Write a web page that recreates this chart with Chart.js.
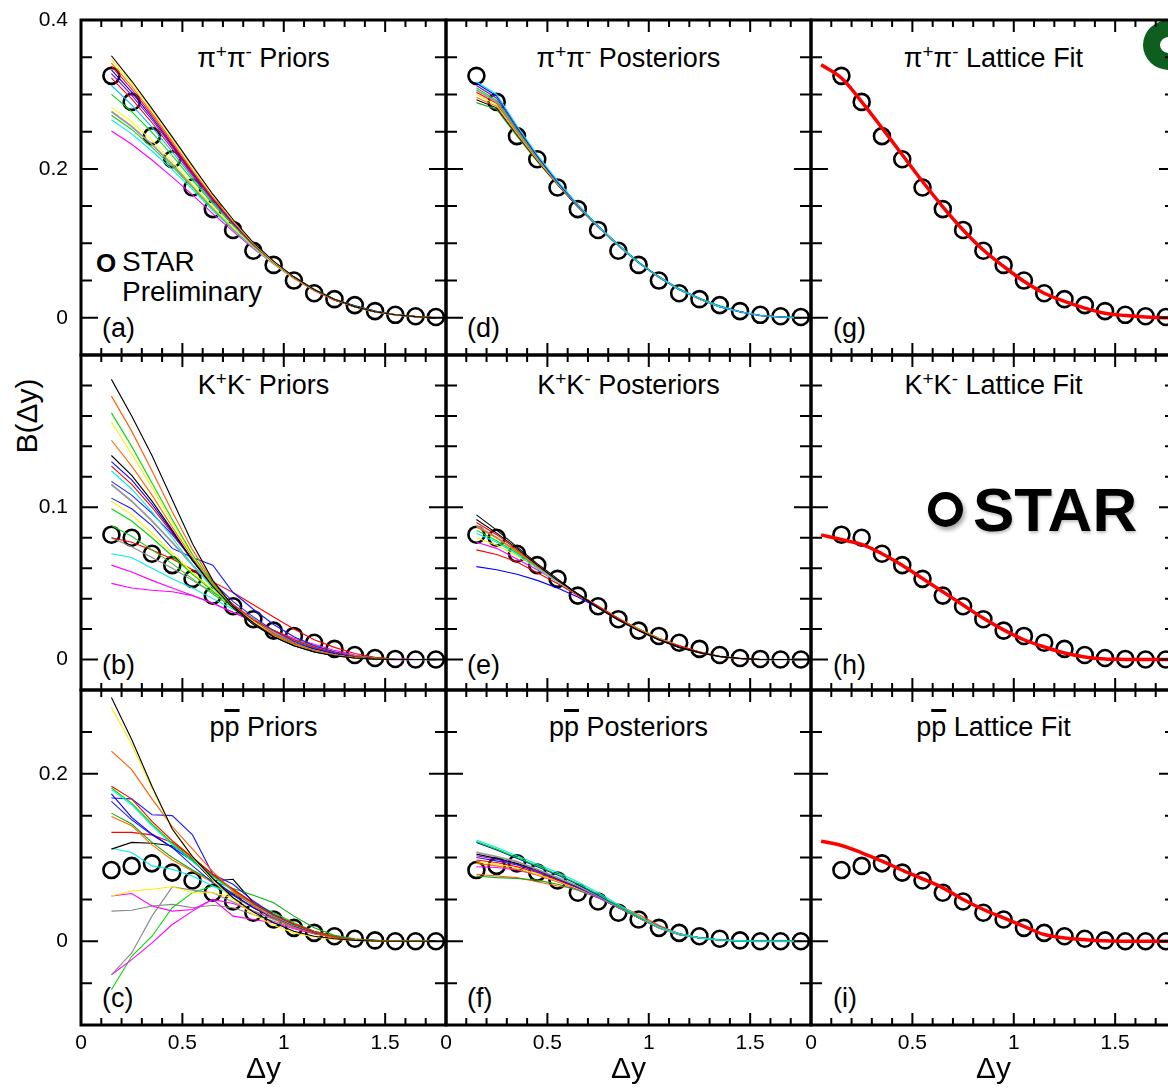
<!DOCTYPE html>
<html>
<head>
<meta charset="utf-8">
<script src="https://cdn.jsdelivr.net/npm/chart.js@4.4.1/dist/chart.umd.min.js"></script>
<style>
    html, body { margin: 0; padding: 0; background: #fff; overflow: hidden; }
    #fig { position: relative; width: 1168px; height: 1090px; overflow: hidden;
           font-family: "Liberation Sans", Arial, sans-serif; color: #000; }
    #fig canvas { position: absolute; }
    .ttl { position: absolute; width: 365px; text-align: center; font-size: 27px; line-height: 27px; white-space: nowrap; }
    .ttl sup { font-size: 19px; vertical-align: baseline; position: relative; top: -9px; }
    .bar { text-decoration: overline; text-decoration-thickness: 2.5px; }
    .tag { position: absolute; font-size: 27px; line-height: 27px; }
    .leg { position: absolute; font-size: 28px; line-height: 28px; white-space: nowrap; }
    .ytitle { position: absolute; left: 27px; top: 416px; font-size: 30px; white-space: nowrap;
              transform: translate(-50%, -50%) rotate(-90deg); }
    .logo { position: absolute; left: 973px; top: 479px; font-size: 62px; line-height: 62px; font-weight: bold;
            text-shadow: 1px 2px 3px rgba(0,0,0,0.25); }
    .ring { position: absolute; left: 928px; top: 492px; width: 35px; height: 35px; box-sizing: border-box;
            border: 7px solid #000; border-radius: 50%; box-shadow: 2px 3px 4px rgba(0,0,0,0.35); }
    .seal { position: absolute; left: 1143px; top: 20px; width: 52px; height: 50px; box-sizing: border-box;
            border: 17px solid #0d5e1f; border-radius: 50%; }
</style>
</head>
<body>
<div id="fig">
    <div class="ttl" style="left:81px;top:45px">π<sup>+</sup>π<sup>-</sup> Priors</div>
    <div class="ttl" style="left:446px;top:45px">π<sup>+</sup>π<sup>-</sup> Posteriors</div>
    <div class="ttl" style="left:811px;top:45px">π<sup>+</sup>π<sup>-</sup> Lattice Fit</div>
    <div class="ttl" style="left:81px;top:372px">K<sup>+</sup>K<sup>-</sup> Priors</div>
    <div class="ttl" style="left:446px;top:372px">K<sup>+</sup>K<sup>-</sup> Posteriors</div>
    <div class="ttl" style="left:811px;top:372px">K<sup>+</sup>K<sup>-</sup> Lattice Fit</div>
    <div class="ttl" style="left:81px;top:714px">p<span class="bar">p</span> Priors</div>
    <div class="ttl" style="left:446px;top:714px">p<span class="bar">p</span> Posteriors</div>
    <div class="ttl" style="left:811px;top:714px">p<span class="bar">p</span> Lattice Fit</div>

    <div class="tag" style="left:102px;top:315px">(a)</div>
    <div class="tag" style="left:102px;top:652px">(b)</div>
    <div class="tag" style="left:102px;top:985px">(c)</div>
    <div class="tag" style="left:467px;top:315px">(d)</div>
    <div class="tag" style="left:467px;top:652px">(e)</div>
    <div class="tag" style="left:467px;top:985px">(f)</div>
    <div class="tag" style="left:833px;top:315px">(g)</div>
    <div class="tag" style="left:833px;top:652px">(h)</div>
    <div class="tag" style="left:833px;top:985px">(i)</div>

    <div class="leg" style="left:96px;top:249px;font-weight:bold;font-size:26px">O</div>
    <div class="leg" style="left:122px;top:248px">STAR</div>
    <div class="leg" style="left:122px;top:278px">Preliminary</div>

    <div class="ytitle">B(Δy)</div>
    <div class="ring"></div>
    <div class="logo">STAR</div>
    <div class="seal"></div>
</div>

<script>
// Δy bin centres of the balance function
const DY = [0.15, 0.25, 0.35, 0.45, 0.55, 0.65, 0.75, 0.85, 0.95, 1.05, 1.15, 1.25, 1.35, 1.45, 1.55, 1.65, 1.75]
// lattice fit sampled from 0.05
const DY_FIT = [0.05, 0.15, 0.25, 0.35, 0.45, 0.55, 0.65, 0.75, 0.85, 0.95, 1.05, 1.15, 1.25, 1.35, 1.45, 1.55, 1.65, 1.75, 1.85]

// STAR preliminary points
const PI_STAR = [0.325, 0.290, 0.244, 0.213, 0.175, 0.146, 0.118, 0.090, 0.071, 0.050, 0.033, 0.025, 0.017, 0.009, 0.004, 0.002, 0.001]
const KK_STAR = [0.082, 0.080, 0.0695, 0.062, 0.053, 0.042, 0.035, 0.0265, 0.019, 0.0155, 0.011, 0.007, 0.003, 0.001, 0.0004, 0, 0]
const PP_STAR = [0.085, 0.090, 0.093, 0.082, 0.0725, 0.058, 0.0475, 0.034, 0.026, 0.016, 0.010, 0.006, 0.003, 0.001, 0, 0, 0]

// lattice fits
const PI_FIT = [0.340, 0.322, 0.290, 0.255, 0.219, 0.183, 0.149, 0.118, 0.091, 0.069, 0.049, 0.033, 0.022, 0.013, 0.006, 0.003, 0.001, 0, 0]
const KK_FIT = [0.0819, 0.0788, 0.0756, 0.0695, 0.0619, 0.0532, 0.0445, 0.0358, 0.0271, 0.0195, 0.0130, 0.0083, 0.0043, 0.0017, 0.0004, 0.0001, 0, 0, 0]
const PP_FIT = [0.1195, 0.1143, 0.1056, 0.0956, 0.0848, 0.0745, 0.0638, 0.0498, 0.0379, 0.0279, 0.0179, 0.0080, 0.0040, 0.0020, 0.0005, 0, 0, 0, 0]

// model draws, one row per curve
const PI_PRIORS = [
    [0.352, 0.318, 0.281, 0.243, 0.204, 0.166, 0.132, 0.101, 0.076, 0.055, 0.038, 0.025, 0.015, 0.008, 0.004, 0.0015, 0],
    [0.347, 0.315, 0.279, 0.241, 0.202, 0.165, 0.131, 0.100, 0.075, 0.055, 0.038, 0.025, 0.015, 0.008, 0.004, 0.0015, 0],
    [0.342, 0.311, 0.275, 0.237, 0.198, 0.162, 0.129, 0.100, 0.075, 0.054, 0.037, 0.024, 0.015, 0.008, 0.004, 0.0015, 0],
    [0.338, 0.307, 0.272, 0.234, 0.196, 0.161, 0.129, 0.099, 0.075, 0.054, 0.037, 0.024, 0.015, 0.008, 0.004, 0.0015, 0],
    [0.333, 0.303, 0.269, 0.232, 0.195, 0.160, 0.128, 0.099, 0.075, 0.055, 0.038, 0.025, 0.016, 0.009, 0.004, 0.0015, 0],
    [0.328, 0.299, 0.266, 0.230, 0.193, 0.159, 0.127, 0.099, 0.075, 0.054, 0.037, 0.024, 0.015, 0.008, 0.004, 0.0015, 0],
    [0.322, 0.294, 0.262, 0.227, 0.191, 0.157, 0.126, 0.098, 0.074, 0.054, 0.037, 0.024, 0.015, 0.008, 0.004, 0.0015, 0],
    [0.312, 0.286, 0.256, 0.223, 0.188, 0.155, 0.125, 0.097, 0.074, 0.054, 0.037, 0.024, 0.015, 0.008, 0.004, 0.0015, 0],
    [0.300, 0.277, 0.249, 0.218, 0.185, 0.153, 0.124, 0.097, 0.074, 0.054, 0.038, 0.025, 0.016, 0.009, 0.004, 0.0015, 0],
    [0.283, 0.263, 0.238, 0.210, 0.179, 0.149, 0.121, 0.096, 0.073, 0.053, 0.037, 0.024, 0.015, 0.008, 0.004, 0.0015, 0],
    [0.277, 0.257, 0.233, 0.206, 0.177, 0.148, 0.120, 0.095, 0.073, 0.053, 0.037, 0.024, 0.015, 0.008, 0.004, 0.0015, 0],
    [0.272, 0.253, 0.229, 0.203, 0.175, 0.146, 0.119, 0.095, 0.073, 0.054, 0.038, 0.025, 0.016, 0.009, 0.004, 0.0015, 0],
    [0.266, 0.247, 0.224, 0.199, 0.172, 0.144, 0.118, 0.094, 0.072, 0.053, 0.037, 0.024, 0.015, 0.008, 0.004, 0.0015, 0],
    [0.251, 0.233, 0.212, 0.189, 0.165, 0.140, 0.116, 0.093, 0.072, 0.053, 0.037, 0.024, 0.015, 0.008, 0.004, 0.0015, 0]
]
const PI_PRIOR_COLORS = ['#000000', '#ffee00', '#ff6a00', '#ff0000', '#0000ff', '#9400d3', '#dd1111', '#00bfff',
                         '#00dd00', '#ffff00', '#999999', '#22cc22', '#00eeee', '#ff00ff']

const PI_POSTERIORS = [
    [0.317, 0.300, 0.258, 0.219, 0.184, 0.152, 0.123, 0.098, 0.074, 0.055, 0.038, 0.026, 0.015, 0.008, 0.003, 0.001, 0],
    [0.315, 0.298, 0.257, 0.218, 0.183, 0.152, 0.123, 0.098, 0.074, 0.055, 0.038, 0.026, 0.015, 0.008, 0.003, 0.001, 0],
    [0.312, 0.295, 0.255, 0.217, 0.182, 0.151, 0.123, 0.098, 0.074, 0.055, 0.038, 0.026, 0.015, 0.008, 0.003, 0.001, 0],
    [0.309, 0.292, 0.253, 0.216, 0.182, 0.151, 0.123, 0.098, 0.075, 0.055, 0.039, 0.026, 0.016, 0.008, 0.003, 0.001, 0],
    [0.306, 0.290, 0.251, 0.215, 0.181, 0.151, 0.123, 0.097, 0.074, 0.055, 0.038, 0.026, 0.015, 0.008, 0.003, 0.001, 0],
    [0.303, 0.288, 0.250, 0.214, 0.181, 0.150, 0.122, 0.097, 0.074, 0.055, 0.038, 0.026, 0.015, 0.008, 0.003, 0.001, 0],
    [0.300, 0.286, 0.249, 0.213, 0.180, 0.150, 0.122, 0.097, 0.074, 0.054, 0.038, 0.025, 0.015, 0.008, 0.003, 0.001, 0],
    [0.296, 0.284, 0.247, 0.212, 0.180, 0.150, 0.122, 0.097, 0.074, 0.054, 0.038, 0.025, 0.015, 0.008, 0.003, 0.001, 0],
    [0.293, 0.282, 0.246, 0.211, 0.179, 0.149, 0.122, 0.097, 0.074, 0.054, 0.038, 0.025, 0.015, 0.008, 0.003, 0.001, 0],
    [0.289, 0.280, 0.244, 0.210, 0.179, 0.149, 0.122, 0.097, 0.074, 0.054, 0.038, 0.025, 0.015, 0.008, 0.003, 0.001, 0]
]
const PI_POST_COLORS = ['#00eeee', '#0000ff', '#9400d3', '#00dd00', '#999999', '#ff0000', '#ffee00', '#ff6a00', '#000000', '#22aa22']

const KK_PRIORS = [
    [0.184, 0.160, 0.134, 0.105, 0.076, 0.052, 0.035, 0.024, 0.015, 0.009, 0.005, 0.0025, 0.001, 0.0003, 0, 0, 0],
    [0.173, 0.150, 0.124, 0.097, 0.072, 0.051, 0.035, 0.024, 0.016, 0.010, 0.006, 0.003, 0.0012, 0.0004, 0, 0, 0],
    [0.162, 0.140, 0.116, 0.092, 0.069, 0.050, 0.035, 0.024, 0.016, 0.010, 0.006, 0.003, 0.0012, 0.0004, 0, 0, 0],
    [0.156, 0.135, 0.113, 0.090, 0.068, 0.050, 0.035, 0.025, 0.016, 0.010, 0.006, 0.003, 0.0012, 0.0004, 0, 0, 0],
    [0.144, 0.127, 0.108, 0.087, 0.067, 0.049, 0.035, 0.025, 0.017, 0.011, 0.006, 0.003, 0.0013, 0.0004, 0, 0, 0],
    [0.134, 0.121, 0.104, 0.085, 0.065, 0.048, 0.034, 0.023, 0.015, 0.009, 0.005, 0.0025, 0.001, 0.0003, 0, 0, 0],
    [0.130, 0.118, 0.102, 0.084, 0.065, 0.049, 0.035, 0.025, 0.017, 0.011, 0.007, 0.004, 0.0015, 0.0005, 0, 0, 0],
    [0.127, 0.115, 0.100, 0.083, 0.065, 0.049, 0.036, 0.026, 0.019, 0.013, 0.008, 0.0045, 0.002, 0.0007, 0, 0, 0],
    [0.124, 0.112, 0.097, 0.080, 0.062, 0.047, 0.035, 0.025, 0.017, 0.011, 0.007, 0.004, 0.0015, 0.0005, 0, 0, 0],
    [0.117, 0.108, 0.096, 0.082, 0.066, 0.051, 0.038, 0.028, 0.019, 0.012, 0.007, 0.004, 0.0015, 0.0005, 0, 0, 0],
    [0.115, 0.104, 0.091, 0.077, 0.062, 0.048, 0.036, 0.026, 0.018, 0.012, 0.007, 0.004, 0.0015, 0.0005, 0, 0, 0],
    [0.106, 0.099, 0.088, 0.073, 0.067, 0.062, 0.044, 0.033, 0.023, 0.015, 0.009, 0.005, 0.002, 0.0007, 0, 0, 0],
    [0.104, 0.095, 0.083, 0.070, 0.057, 0.046, 0.035, 0.026, 0.018, 0.012, 0.008, 0.0045, 0.002, 0.0007, 0, 0, 0],
    [0.099, 0.091, 0.080, 0.068, 0.056, 0.045, 0.035, 0.026, 0.018, 0.012, 0.008, 0.0045, 0.002, 0.0007, 0, 0, 0],
    [0.088, 0.081, 0.072, 0.063, 0.053, 0.043, 0.034, 0.026, 0.019, 0.013, 0.009, 0.005, 0.0025, 0.001, 0, 0, 0],
    [0.080, 0.077, 0.072, 0.066, 0.059, 0.051, 0.044, 0.036, 0.028, 0.020, 0.013, 0.008, 0.004, 0.0015, 0.0003, 0, 0],
    [0.080, 0.074, 0.067, 0.060, 0.052, 0.044, 0.036, 0.027, 0.019, 0.013, 0.008, 0.0045, 0.002, 0.0007, 0, 0, 0],
    [0.0695, 0.067, 0.060, 0.053, 0.047, 0.040, 0.033, 0.025, 0.018, 0.012, 0.008, 0.0045, 0.002, 0.0007, 0, 0, 0],
    [0.062, 0.0575, 0.052, 0.047, 0.042, 0.037, 0.031, 0.025, 0.019, 0.013, 0.009, 0.005, 0.0025, 0.001, 0.0003, 0, 0],
    [0.050, 0.047, 0.0455, 0.0445, 0.042, 0.037, 0.031, 0.025, 0.019, 0.014, 0.010, 0.006, 0.003, 0.001, 0.0003, 0, 0]
]
const KK_PRIOR_COLORS = ['#000000', '#ff5a00', '#00dd00', '#ffee00', '#ff6a00', '#000000', '#0000ff', '#ff0000', '#00eeee', '#2222ff',
                         '#999999', '#1a1aff', '#ffee00', '#00dd00', '#22cc22', '#ff0000', '#888888', '#00eeee', '#ff00ff', '#ff00ff']

const KK_POSTERIORS = [
    [0.095, 0.085, 0.074, 0.063, 0.053, 0.043, 0.034, 0.026, 0.019, 0.013, 0.008, 0.0045, 0.002, 0.0007, 0, 0, 0],
    [0.092, 0.083, 0.073, 0.062, 0.052, 0.043, 0.034, 0.026, 0.019, 0.013, 0.008, 0.0045, 0.002, 0.0007, 0, 0, 0],
    [0.090, 0.082, 0.072, 0.062, 0.052, 0.043, 0.035, 0.027, 0.019, 0.013, 0.009, 0.005, 0.002, 0.0007, 0, 0, 0],
    [0.087, 0.080, 0.071, 0.061, 0.052, 0.043, 0.035, 0.027, 0.020, 0.014, 0.009, 0.005, 0.002, 0.0007, 0, 0, 0],
    [0.085, 0.078, 0.070, 0.061, 0.052, 0.043, 0.035, 0.027, 0.020, 0.014, 0.009, 0.005, 0.002, 0.0007, 0, 0, 0],
    [0.083, 0.077, 0.069, 0.060, 0.051, 0.043, 0.035, 0.027, 0.020, 0.014, 0.009, 0.005, 0.002, 0.0007, 0, 0, 0],
    [0.080, 0.075, 0.068, 0.060, 0.051, 0.043, 0.035, 0.027, 0.020, 0.014, 0.009, 0.005, 0.002, 0.0007, 0, 0, 0],
    [0.077, 0.073, 0.066, 0.059, 0.051, 0.043, 0.035, 0.027, 0.020, 0.014, 0.009, 0.005, 0.002, 0.0007, 0, 0, 0],
    [0.072, 0.069, 0.064, 0.057, 0.050, 0.042, 0.035, 0.027, 0.020, 0.014, 0.009, 0.005, 0.002, 0.0007, 0, 0, 0],
    [0.061, 0.059, 0.056, 0.052, 0.047, 0.041, 0.034, 0.027, 0.020, 0.014, 0.009, 0.005, 0.002, 0.0007, 0, 0, 0],
    [0.088, 0.080, 0.071, 0.061, 0.052, 0.043, 0.034, 0.026, 0.019, 0.013, 0.008, 0.0045, 0.002, 0.0007, 0, 0, 0]
]
const KK_POST_COLORS = ['#000000', '#000000', '#ff0000', '#ff6a00', '#00dd00', '#00eeee', '#ffee00', '#ff00ff', '#ff0000', '#0000ff', '#999999']

const PP_PRIORS = [
    [0.291, 0.241, 0.185, 0.134, 0.101, 0.075, 0.052, 0.035, 0.022, 0.012, 0.006, 0.003, 0.001, 0.0003, 0, 0, 0],
    [0.279, 0.235, 0.183, 0.134, 0.100, 0.073, 0.050, 0.032, 0.019, 0.010, 0.005, 0.002, 0.001, 0.0003, 0, 0, 0],
    [0.227, 0.205, 0.170, 0.137, 0.110, 0.083, 0.060, 0.042, 0.028, 0.017, 0.009, 0.004, 0.0015, 0.0005, 0, 0, 0],
    [0.185, 0.170, 0.143, 0.120, 0.100, 0.080, 0.062, 0.045, 0.031, 0.020, 0.011, 0.005, 0.002, 0.0007, 0, 0, 0],
    [0.183, 0.165, 0.140, 0.117, 0.097, 0.078, 0.061, 0.045, 0.031, 0.020, 0.011, 0.005, 0.002, 0.0007, 0, 0, 0],
    [0.181, 0.163, 0.138, 0.115, 0.095, 0.077, 0.060, 0.044, 0.030, 0.019, 0.011, 0.005, 0.002, 0.0007, 0, 0, 0],
    [0.176, 0.148, 0.128, 0.112, 0.096, 0.074, 0.056, 0.040, 0.028, 0.018, 0.010, 0.005, 0.002, 0.0007, 0, 0, 0],
    [0.171, 0.170, 0.151, 0.150, 0.127, 0.080, 0.068, 0.048, 0.032, 0.020, 0.011, 0.005, 0.002, 0.0007, 0, 0, 0],
    [0.167, 0.145, 0.127, 0.112, 0.090, 0.070, 0.055, 0.040, 0.028, 0.018, 0.010, 0.005, 0.002, 0.0007, 0, 0, 0],
    [0.153, 0.140, 0.118, 0.100, 0.085, 0.072, 0.063, 0.055, 0.046, 0.030, 0.016, 0.007, 0.003, 0.001, 0, 0, 0],
    [0.149, 0.138, 0.115, 0.097, 0.084, 0.070, 0.058, 0.043, 0.030, 0.019, 0.010, 0.005, 0.002, 0.0007, 0, 0, 0],
    [0.130, 0.130, 0.127, 0.118, 0.100, 0.079, 0.062, 0.046, 0.032, 0.021, 0.012, 0.006, 0.002, 0.0007, 0, 0, 0],
    [0.110, 0.118, 0.117, 0.114, 0.098, 0.072, 0.074, 0.046, 0.030, 0.018, 0.010, 0.005, 0.002, 0.0007, 0, 0, 0],
    [0.111, 0.106, 0.090, 0.086, 0.078, 0.066, 0.055, 0.041, 0.028, 0.018, 0.010, 0.005, 0.002, 0.0007, 0, 0, 0],
    [0.054, 0.060, 0.062, 0.065, 0.058, 0.058, 0.052, 0.040, 0.028, 0.018, 0.010, 0.005, 0.002, 0.0007, 0, 0, 0],
    [0.054, 0.057, 0.042, 0.036, 0.038, 0.050, 0.030, 0.026, 0.022, 0.015, 0.009, 0.005, 0.002, 0.0007, 0, 0, 0],
    [0.036, 0.037, 0.042, 0.044, 0.040, 0.043, 0.040, 0.032, 0.024, 0.016, 0.009, 0.005, 0.002, 0.0007, 0, 0, 0],
    [-0.040, -0.014, 0.030, 0.065, 0.061, 0.058, 0.047, 0.036, 0.026, 0.017, 0.010, 0.005, 0.002, 0.001, 0, 0, 0],
    [-0.040, -0.022, -0.002, 0.020, 0.036, 0.050, 0.045, 0.036, 0.027, 0.018, 0.010, 0.005, 0.002, 0.001, 0, 0, 0],
    [-0.058, -0.018, 0.006, 0.040, 0.058, 0.066, 0.058, 0.046, 0.034, 0.022, 0.012, 0.006, 0.002, 0.001, 0, 0, 0]
]
const PP_PRIOR_COLORS = ['#000000', '#ffee00', '#ff5a00', '#ff0000', '#00dd00', '#00eeee', '#0000ff', '#1a1aff', '#2222ff', '#11aa11',
                         '#ff6a00', '#ff0000', '#000000', '#00eeee', '#ffee00', '#ff00ff', '#888888', '#888888', '#ff00ff', '#00dd00']

const PP_POSTERIORS = [
    [0.121, 0.112, 0.102, 0.092, 0.082, 0.071, 0.058, 0.044, 0.030, 0.017, 0.009, 0.004, 0.0015, 0.0005, 0, 0, 0],
    [0.119, 0.110, 0.100, 0.090, 0.080, 0.069, 0.056, 0.042, 0.029, 0.017, 0.009, 0.004, 0.0015, 0.0005, 0, 0, 0],
    [0.118, 0.109, 0.099, 0.089, 0.079, 0.068, 0.055, 0.042, 0.029, 0.017, 0.009, 0.004, 0.0015, 0.0005, 0, 0, 0],
    [0.106, 0.101, 0.095, 0.086, 0.076, 0.066, 0.054, 0.041, 0.028, 0.016, 0.008, 0.004, 0.0015, 0.0005, 0, 0, 0],
    [0.104, 0.099, 0.093, 0.085, 0.075, 0.065, 0.054, 0.041, 0.028, 0.016, 0.008, 0.004, 0.0015, 0.0005, 0, 0, 0],
    [0.102, 0.098, 0.092, 0.084, 0.075, 0.065, 0.054, 0.041, 0.028, 0.016, 0.008, 0.004, 0.0015, 0.0005, 0, 0, 0],
    [0.100, 0.096, 0.091, 0.083, 0.074, 0.064, 0.053, 0.040, 0.028, 0.016, 0.008, 0.004, 0.0015, 0.0005, 0, 0, 0],
    [0.097, 0.094, 0.089, 0.082, 0.073, 0.064, 0.054, 0.042, 0.030, 0.018, 0.009, 0.004, 0.0015, 0.0005, 0, 0, 0],
    [0.095, 0.092, 0.088, 0.080, 0.072, 0.063, 0.053, 0.041, 0.029, 0.017, 0.009, 0.004, 0.0015, 0.0005, 0, 0, 0],
    [0.093, 0.090, 0.086, 0.079, 0.071, 0.063, 0.053, 0.041, 0.029, 0.017, 0.009, 0.004, 0.0015, 0.0005, 0, 0, 0],
    [0.089, 0.088, 0.085, 0.079, 0.071, 0.062, 0.052, 0.040, 0.028, 0.016, 0.008, 0.004, 0.0015, 0.0005, 0, 0, 0],
    [0.078, 0.076, 0.075, 0.073, 0.068, 0.061, 0.052, 0.040, 0.028, 0.016, 0.008, 0.004, 0.0015, 0.0005, 0, 0, 0],
    [0.080, 0.078, 0.076, 0.071, 0.066, 0.063, 0.054, 0.043, 0.032, 0.019, 0.009, 0.004, 0.0015, 0.0005, 0, 0, 0]
]
const PP_POST_COLORS = ['#00eeee', '#00dd00', '#0000ff', '#999999', '#000000', '#9400d3', '#2222ff', '#ff0000', '#ffee00', '#ff6a00',
                        '#ff00ff', '#11aa11', '#ff5a00']

// tick labels
const X_LABELS = [0, 0.5, 1, 1.5]
const Y_LABELS = [[0, 0.2, 0.4], [0, 0.1], [0, 0.2]]

// frame layout
const COL_LEFT = [81, 446, 811]
const ROW_TOP = [20, 355, 690]
const PW = 365, PH = 335
const PAD_L = 81, PAD_T = 20, PAD_R = 12, AXIS_H = 63

const ROWS = [
    { min: -0.05, max: 0.4, minor: 0.05, major: 0.2 },
    { min: -0.02, max: 0.2, minor: 0.02, major: 0.1 },
    { min: -0.1,  max: 0.3, minor: 0.05, major: 0.2 }
]

Chart.defaults.font.family = '"Liberation Sans", Arial, sans-serif'
Chart.defaults.color = '#000'

const fmt = v => String(+v.toFixed(2))

// closed frame with inward ticks on all four sides
const frameTicks = {
    id: 'frameTicks',
    afterDatasetsDraw(chart, args, opts) {
        const { ctx, chartArea: a, scales: { x, y } } = chart
        ctx.save()
        ctx.strokeStyle = '#000'
        ctx.lineWidth = 2
        ctx.beginPath()
        for (let i = 1; i < 18; i++) {
            const px = x.getPixelForValue(i / 10)
            const len = i % 5 === 0 ? 12 : 7
            ctx.moveTo(px, a.bottom); ctx.lineTo(px, a.bottom - len)
            ctx.moveTo(px, a.top); ctx.lineTo(px, a.top + len)
        }
        const k0 = Math.ceil(opts.min / opts.minor - 1e-6)
        const k1 = Math.floor(opts.max / opts.minor + 1e-6)
        for (let k = k0; k <= k1; k++) {
            const v = k * opts.minor
            const r = v / opts.major
            const len = Math.abs(r - Math.round(r)) < 1e-6 ? 17 : 11
            const py = y.getPixelForValue(v)
            ctx.moveTo(a.left, py); ctx.lineTo(a.left + len, py)
            ctx.moveTo(a.right, py); ctx.lineTo(a.right - len, py)
        }
        ctx.stroke()
        ctx.lineWidth = 3
        ctx.strokeRect(a.left, a.top, a.width, a.height)
        ctx.restore()
    }
}

const toPoints = (xs, ys) => ys.map((v, i) => ({ x: xs[i], y: v }))

function drawLines(lines, colors) {
    return lines.map((ys, i) => ({
        data: toPoints(DY, ys),
        borderColor: colors[i],
        borderWidth: colors[i] === '#999999' ? 1.8 : 1.1,
        pointRadius: 0,
        tension: 0,
        order: 1
    }))
}

function starPoints(ys) {
    return {
        data: toPoints(DY, ys),
        showLine: false,
        pointStyle: 'circle',
        pointRadius: 8,
        pointBorderWidth: 2.6,
        pointBorderColor: '#000',
        pointBackgroundColor: 'rgba(0,0,0,0)',
        order: 99
    }
}

function fitLine(ys) {
    return {
        data: toPoints(DY_FIT, ys),
        borderColor: '#ff0000',
        borderWidth: 3.5,
        pointRadius: 0,
        tension: 0.35,
        order: 0
    }
}

function panel(col, row, datasets) {
    const fig = document.getElementById('fig')
    const cv = document.createElement('canvas')
    cv.width = PAD_L + PW + PAD_R
    cv.height = PAD_T + PH + AXIS_H
    cv.style.left = (COL_LEFT[col] - PAD_L) + 'px'
    cv.style.top = (ROW_TOP[row] - PAD_T) + 'px'
    fig.appendChild(cv)

    const r = ROWS[row]
    new Chart(cv, {
        type: 'line',
        data: { datasets },
        options: {
            responsive: false,
            animation: false,
            devicePixelRatio: 1,
            events: [],
            layout: { padding: { top: PAD_T, right: PAD_R, left: 0, bottom: 0 } },
            plugins: {
                legend: { display: false },
                tooltip: { enabled: false },
                frameTicks: r
            },
            scales: {
                x: {
                    type: 'linear',
                    min: 0,
                    max: 1.8,
                    grid: { display: false, drawTicks: false },
                    border: { display: false },
                    afterBuildTicks: s => { s.ticks = X_LABELS.map(v => ({ value: v })) },
                    ticks: { display: row === 2, padding: 6, maxRotation: 0, font: { size: 21 }, callback: v => fmt(v) },
                    title: { display: row === 2, text: 'Δy', font: { size: 30 }, padding: 0 },
                    // keep every panel the same size, whatever its labels
                    afterFit: s => { s.height = AXIS_H; s.paddingLeft = 0; s.paddingRight = 0 }
                },
                y: {
                    type: 'linear',
                    min: r.min,
                    max: r.max,
                    grid: { display: false, drawTicks: false },
                    border: { display: false },
                    afterBuildTicks: s => { s.ticks = Y_LABELS[row].map(v => ({ value: v })) },
                    ticks: { display: col === 0, padding: 13, font: { size: 21 }, callback: v => fmt(v) },
                    afterFit: s => { s.width = PAD_L; s.paddingTop = 0; s.paddingBottom = 0 }
                }
            }
        },
        plugins: [frameTicks]
    })
}

// priors
panel(0, 0, [...drawLines(PI_PRIORS, PI_PRIOR_COLORS), starPoints(PI_STAR)])
panel(0, 1, [...drawLines(KK_PRIORS, KK_PRIOR_COLORS), starPoints(KK_STAR)])
panel(0, 2, [...drawLines(PP_PRIORS, PP_PRIOR_COLORS), starPoints(PP_STAR)])
// posteriors
panel(1, 0, [...drawLines(PI_POSTERIORS, PI_POST_COLORS), starPoints(PI_STAR)])
panel(1, 1, [...drawLines(KK_POSTERIORS, KK_POST_COLORS), starPoints(KK_STAR)])
panel(1, 2, [...drawLines(PP_POSTERIORS, PP_POST_COLORS), starPoints(PP_STAR)])
// lattice fits
panel(2, 0, [fitLine(PI_FIT), starPoints(PI_STAR)])
panel(2, 1, [fitLine(KK_FIT), starPoints(KK_STAR)])
panel(2, 2, [fitLine(PP_FIT), starPoints(PP_STAR)])
</script>
</body>
</html>
